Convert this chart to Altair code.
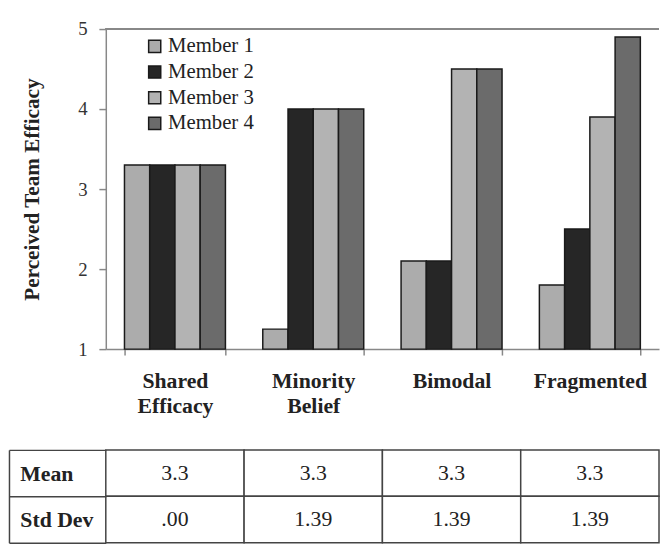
import altair as alt
import pandas as pd

categories = ["Shared Efficacy", "Minority Belief", "Bimodal", "Fragmented"]
members = ["Member 1", "Member 2", "Member 3", "Member 4"]
member1 = [3.3, 1.25, 2.1, 1.8]
member2 = [3.3, 4.0, 2.1, 2.5]
member3 = [3.3, 4.0, 4.5, 3.9]
member4 = [3.3, 4.0, 4.5, 4.9]
member_colors = ["#acacac", "#262626", "#b3b3b3", "#6b6b6b"]

row_labels = ["Mean", "Std Dev"]
mean_text = ["3.3", "3.3", "3.3", "3.3"]
sd_text = [".00", "1.39", "1.39", "1.39"]

y_ticks = [1, 2, 3, 4, 5]

FONT = "Liberation Serif, Times New Roman, serif"

rows = []
for m, vals in zip(members, [member1, member2, member3, member4]):
    for c, v in zip(categories, vals):
        rows.append({"category": c, "member": m, "value": v})
bars_df = pd.DataFrame(rows)

trows = []
for r, texts in zip(row_labels, [mean_text, sd_text]):
    for c, t in zip(categories, texts):
        trows.append({"category": c, "row": r, "text": t})
table_df = pd.DataFrame(trows)

W = 560

x_enc = alt.X(
    "category:N", sort=categories,
    scale=alt.Scale(paddingInner=0.27, paddingOuter=0.135),
    axis=alt.Axis(
        title=None, labelAngle=0, tickBand="extent", tickSize=6,
        tickColor="#888", domainColor="#888", domainWidth=1.5, tickWidth=1.5,
        labelFont=FONT, labelFontSize=22, labelFontWeight="bold", labelColor="#222",
        labelPadding=16, labelLineHeight=25,
        labelExpr="split(datum.label, ' ')",
    ),
)

bars = alt.Chart(bars_df).mark_bar(stroke="#1a1a1a", strokeWidth=1.5).encode(
    x=x_enc,
    xOffset=alt.XOffset("member:N", sort=members, scale=alt.Scale(paddingInner=0, paddingOuter=0)),
    y=alt.Y(
        "value:Q",
        scale=alt.Scale(domain=[1, 5], zero=False, nice=False),
        axis=alt.Axis(
            title="Perceived Team Efficacy", values=y_ticks, format="d", grid=False,
            tickSize=7, tickColor="#888", tickWidth=1.5,
            domainColor="#888", domainWidth=1.5,
            labelFont=FONT, labelFontSize=19, labelColor="#333", labelPadding=12,
            titleFont=FONT, titleFontSize=21.5, titleFontWeight="bold", titleColor="#222",
            titlePadding=35,
        ),
    ),
    y2=alt.datum(1),
    color=alt.Color(
        "member:N", sort=members,
        scale=alt.Scale(domain=members, range=member_colors),
        legend=alt.Legend(
            title=None, orient="none", legendX=39, legendY=7,
            symbolType="square", symbolSize=150, symbolStrokeColor="#1a1a1a",
            symbolStrokeWidth=1.5, symbolOpacity=1,
            labelFont=FONT, labelFontSize=21, labelColor="#222",
            labelOffset=3, rowPadding=4,
        ),
    ),
)

top_line = alt.Chart(bars_df).mark_rule(color="#888", strokeWidth=1.5).encode(
    y=alt.datum(5)
)

bar_chart = alt.layer(bars, top_line).properties(width=W, height=324)

tx = alt.X("category:N", sort=categories,
           scale=alt.Scale(paddingInner=0, paddingOuter=0), axis=None)

cells = alt.Chart(table_df).mark_rect(fill="white", stroke="#444", strokeWidth=1.5).encode(
    x=tx,
    y=alt.Y(
        "row:N", sort=row_labels,
        scale=alt.Scale(paddingInner=0, paddingOuter=0),
        axis=alt.Axis(
            title=None, orient="left", domain=False, tickBand="extent",
            tickSize=98, tickColor="#444", tickWidth=1.5,
            labelAlign="left", labelPadding=-11,
            labelFont=FONT, labelFontSize=22, labelFontWeight="bold", labelColor="#222",
        ),
    ),
)

texts = alt.Chart(table_df).mark_text(font=FONT, fontSize=22, color="#222").encode(
    x=tx,
    y=alt.Y(
        "row:N", sort=row_labels,
        scale=alt.Scale(paddingInner=0, paddingOuter=0),
        axis=alt.Axis(
            title=None, orient="left", offset=98, labels=False, ticks=False,
            domain=True, domainColor="#444", domainWidth=1.5,
        ),
    ),
    text="text:N",
)

table = alt.layer(cells, texts).resolve_axis(y="independent").properties(width=W, height=94)

chart = alt.vconcat(bar_chart, table, spacing=23).resolve_scale(
    x="independent"
).properties(
    padding={"top": 9, "left": 0, "right": 0, "bottom": 0}
).configure_view(stroke=None)

chart.save("out.html", embed_options={"renderer": "svg", "actions": False})
